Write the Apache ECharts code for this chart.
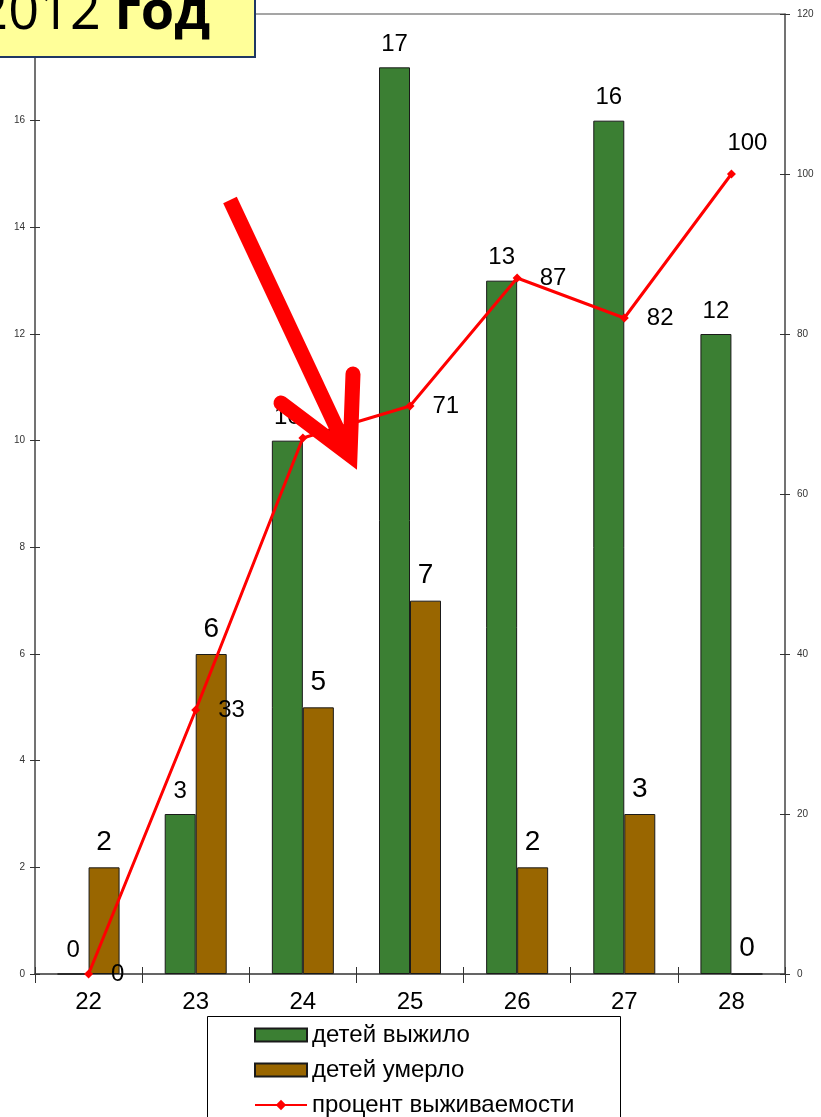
<!DOCTYPE html>
<html><head><meta charset="utf-8">
<script src="https://cdn.jsdelivr.net/npm/echarts@6/dist/echarts.min.js"></script>
<style>html,body{margin:0;padding:0;background:#fff}#c{width:821px;height:1117px}</style>
</head><body><div id="c"></div>
<script>
const categories = ['22','23','24','25','26','27','28'];
const survived = [0, 3, 10, 17, 13, 16, 12];
const died = [2, 6, 5, 7, 2, 3, 0];
const survivalRate = [0, 33, 67, 71, 87, 82, 100];
const seriesNames = ['детей выжило', 'детей умерло', 'процент выживаемости'];
const leftScale = {min: 0, max: 18, interval: 2};
const rightScale = {min: 0, max: 120, interval: 20};

const FONT = 'Liberation Sans';
const chart = echarts.init(document.getElementById('c'), null, {renderer: 'canvas'});

const lastIdx = survivalRate.length - 1;
const lineData = survivalRate.map((v, i) => i === lastIdx
  ? {value: v, label: {position: 'top', offset: [16, 0], distance: 14}}
  : v);

const tickStyle = {color: '#333', width: 1};
const option = {
  backgroundColor: '#fff',
  animation: false,
  textStyle: {fontFamily: FONT},
  grid: {left: 35, right: 36, top: 14, bottom: 143, containLabel: false},
  legend: {
    orient: 'vertical', left: 254, top: 1023,
    padding: 0,
    itemWidth: 52, itemHeight: 13, itemGap: 11,
    textStyle: {fontSize: 24, color: '#000', fontFamily: FONT, lineHeight: 24},
    data: [
      {name: seriesNames[0], icon: 'rect'},
      {name: seriesNames[1], icon: 'rect'},
      {name: seriesNames[2]}
    ]
  },
  xAxis: [
    {type: 'category', data: categories, position: 'bottom',
      axisLine: {onZero: false, lineStyle: {color: '#333', width: 1.5}},
      axisTick: {show: true, length: 9, lineStyle: tickStyle},
      axisLabel: {fontSize: 24, color: '#000', margin: 16, fontFamily: FONT},
      splitLine: {show: false}},
    {type: 'category', data: categories, position: 'top',
      axisLine: {show: true, onZero: false, lineStyle: {color: '#888', width: 1.5}},
      axisTick: {show: false}, axisLabel: {show: false}, splitLine: {show: false}},
    {type: 'category', data: categories, position: 'bottom',
      axisLine: {show: false, onZero: false},
      axisTick: {show: true, inside: true, length: 7, lineStyle: tickStyle},
      axisLabel: {show: false}, splitLine: {show: false}}
  ],
  yAxis: [
    Object.assign({type: 'value', position: 'left',
      axisLine: {show: true, lineStyle: {color: '#444', width: 1.5}},
      axisTick: {show: true, length: 5, lineStyle: tickStyle},
      axisLabel: {fontSize: 10, color: '#333', margin: 10, fontFamily: FONT},
      splitLine: {show: false}}, leftScale),
    Object.assign({type: 'value', position: 'right',
      axisLine: {show: true, lineStyle: {color: '#444', width: 1.5}},
      axisTick: {show: true, length: 5, lineStyle: tickStyle},
      axisLabel: {fontSize: 10, color: '#333', margin: 12, fontFamily: FONT},
      splitLine: {show: false}}, rightScale),
    Object.assign({type: 'value', position: 'left',
      axisLine: {show: false},
      axisTick: {show: true, inside: true, length: 5, lineStyle: tickStyle},
      axisLabel: {show: false}, splitLine: {show: false}}, leftScale),
    Object.assign({type: 'value', position: 'right',
      axisLine: {show: false},
      axisTick: {show: true, inside: true, length: 5, lineStyle: tickStyle},
      axisLabel: {show: false}, splitLine: {show: false}}, rightScale)
  ],
  series: [
    {name: seriesNames[0], type: 'bar', data: survived, xAxisIndex: 0, yAxisIndex: 0,
      barWidth: 31, barGap: '0%',
      itemStyle: {color: '#3b7f33', borderColor: '#1a1a1a', borderWidth: 1},
      label: {show: true, position: 'top', distance: 11, fontSize: 24, color: '#000', fontFamily: FONT}},
    {name: seriesNames[1], type: 'bar', data: died, xAxisIndex: 0, yAxisIndex: 0,
      barWidth: 31, barGap: '0%',
      itemStyle: {color: '#996600', borderColor: '#1a1a1a', borderWidth: 1},
      label: {show: true, position: 'top', distance: 11, fontSize: 28, color: '#000', fontFamily: FONT}},
    {name: seriesNames[2], type: 'line', data: lineData, xAxisIndex: 0, yAxisIndex: 1,
      symbol: 'diamond', symbolSize: 9,
      itemStyle: {color: '#ff0000'},
      lineStyle: {color: '#ff0000', width: 3},
      label: {show: true, position: 'right', distance: 18, fontSize: 24, color: '#000', fontFamily: FONT},
      z: 5}
  ],
  graphic: [
    {type: 'rect', z: 90, shape: {x: 207.5, y: 1016.5, width: 413, height: 130},
      style: {fill: null, stroke: '#000', lineWidth: 1}},
    {type: 'line', z: 100, shape: {x1: 230, y1: 200, x2: 348, y2: 452},
      style: {stroke: '#ff0000', lineWidth: 15, lineCap: 'butt'}},
    {type: 'polyline', z: 100, shape: {points: [[281, 403], [350, 455], [353, 374]]},
      style: {stroke: '#ff0000', lineWidth: 15, lineCap: 'round', lineJoin: 'miter', fill: null}},
    {type: 'rect', z: 110, shape: {x: -2, y: -2, width: 257, height: 59},
      style: {fill: '#ffff99', stroke: '#1f3864', lineWidth: 2}},
    {type: 'text', z: 111, x: 210, y: 14,
      style: {text: '{a|2012 }{b|год}', align: 'right', verticalAlign: 'middle',
        rich: {
          a: {fontSize: 54, fontFamily: 'Open Sans', fill: '#000', fontWeight: 'normal'},
          b: {fontSize: 54, fontFamily: 'Open Sans', fill: '#000', fontWeight: 'bold'}
        }}}
  ]
};
chart.setOption(option);
</script>
</body></html>
